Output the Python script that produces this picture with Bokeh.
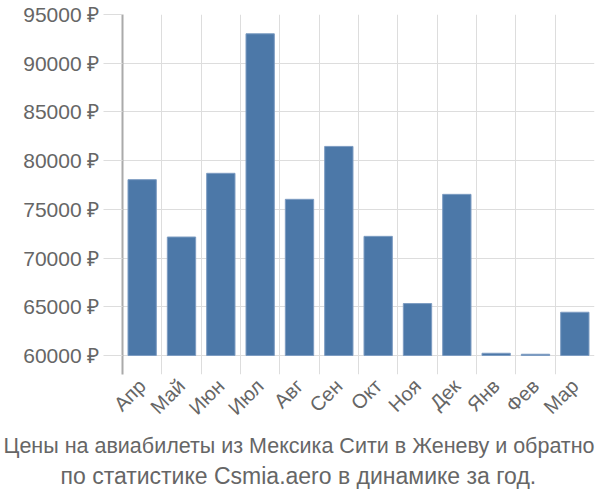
import math
from bokeh.plotting import figure
from bokeh.models import Range1d, FixedTicker, ColumnDataSource, Title
from bokeh.embed import file_html
from bokeh.resources import INLINE

months = ["Апр", "Май", "Июн", "Июл", "Авг", "Сен", "Окт", "Ноя", "Дек", "Янв", "Фев", "Мар"]
prices = [78050, 72160, 78700, 93020, 76030, 81460, 72230, 65330, 76540, 60230, 60130, 64440]
y_ticks = [60000, 65000, 70000, 75000, 80000, 85000, 90000, 95000]
title_lines = ["Цены на авиабилеты из Мексика Сити в Женеву и обратно",
               "по статистике Csmia.aero в динамике за год."]

FONT = "Liberation Sans"
GREY = "#666666"

xs = list(range(len(months)))
src = ColumnDataSource(dict(x=xs, top=prices))

p = figure(width=600, height=500, output_backend="svg", toolbar_location=None,
           x_range=Range1d(-0.5, len(months) - 0.5),
           y_range=Range1d(58050, 95000),
           min_border_left=122, min_border_right=6, min_border_top=14,
           min_border_bottom=126)
p.outline_line_color = None
p.background_fill_color = "white"
p.border_fill_color = "white"

p.vbar(x="x", top="top", bottom=60000, width=0.72, source=src,
       fill_color="#4c78a8", line_color="#7d9cc2", line_width=1)

# grids
p.xgrid.ticker = FixedTicker(ticks=[i - 0.5 for i in range(len(months) + 1)])
p.ygrid.ticker = FixedTicker(ticks=y_ticks)
for g in (p.xgrid, p.ygrid):
    g.grid_line_color = "#dddddd"
    g.grid_line_width = 1

# y axis
ya = p.yaxis[0]
ya.ticker = FixedTicker(ticks=y_ticks)
ya.major_label_overrides = {t: f"{t} ₽" for t in y_ticks}
ya.major_tick_out = 19
ya.major_tick_in = 0
ya.major_tick_line_color = "#dddddd"
ya.minor_tick_line_color = None
ya.axis_line_color = "#aaaaaa"
ya.axis_line_width = 2
ya.major_label_text_font = FONT
ya.major_label_text_font_size = "21px"
ya.major_label_text_color = GREY
ya.major_label_standoff = 4

# x axis
xa = p.xaxis[0]
xa.ticker = FixedTicker(ticks=xs)
xa.major_label_overrides = {i: m for i, m in enumerate(months)}
xa.major_label_orientation = math.pi / 4
xa.major_tick_line_color = None
xa.minor_tick_line_color = None
xa.axis_line_color = None
xa.major_label_text_font = FONT
xa.major_label_text_font_size = "20px"
xa.major_label_text_color = GREY
xa.major_label_standoff = 2

# caption (left-aligned titles shifted so that they sit centred on the page)
offsets = [-119, -62]
sizes = ["21.5px", "23px"]
standoffs = [4, 2]
for line, off, fs, so in zip(title_lines, offsets, sizes, standoffs):
    tt = Title(text=line, align="left", offset=off, standoff=so,
               text_font=FONT, text_font_size=fs, text_color=GREY,
               text_font_style="normal")
    p.add_layout(tt, "below")

open("out.html", "w").write(file_html(p, INLINE))
